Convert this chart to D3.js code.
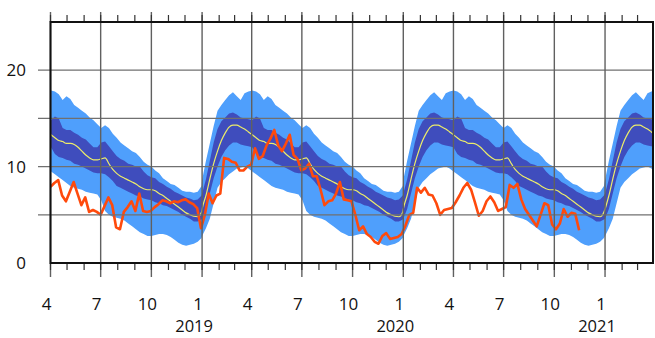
<!DOCTYPE html>
<html><head><meta charset="utf-8">
<script src="https://cdn.jsdelivr.net/npm/d3@7"></script>
<style>body{margin:0;background:#fff} svg{display:block}</style>
</head><body><svg id="c" width="655" height="338"></svg>
<script>
// ---- data ----
// climatology, by day of year (every 7 days), repeated each year
const climDoy = d3.range(0, 365, 7);
const climMed = [5.6,7.0,8.7,10.3,11.6,12.7,13.5,14.1,14.3,14.3,
  14.1,13.9,13.6,13.3,13.0,12.7,12.6,12.4,12.4,12.3,
  12.0,11.6,11.2,10.9,10.7,10.7,10.8,10.9,10.3,9.7,
  9.3,9.0,8.8,8.6,8.4,8.2,7.9,7.7,7.6,7.6,
  7.5,7.2,7.0,6.7,6.4,6.1,5.8,5.5,5.2,5.0,
  4.85,4.8,5.3];
const climDarkHi = [7.2,8.7,10.6,12.5,13.9,14.7,15.1,15.5,15.6,15.4,
  15.1,15.0,14.9,14.8,15.2,15.0,14.0,13.8,13.8,13.5,
  13.3,13.0,12.8,12.4,12.0,12.0,12.5,12.6,12.1,11.6,
  11.1,10.8,10.6,10.3,10.2,10.0,10.0,9.5,9.1,8.9,
  8.8,8.4,8.2,7.9,7.7,7.4,7.2,7.0,6.8,6.7,
  6.5,6.6,7.0];
const climDarkLo = [4.6,5.6,7.2,8.8,10.0,11.0,11.7,12.2,12.5,12.5,
  12.3,12.2,12.1,12.0,11.3,11.0,10.9,10.7,10.6,10.3,
  10.2,10.0,9.8,9.6,9.4,9.3,9.3,9.2,8.9,8.5,
  8.0,7.8,7.6,7.4,7.2,7.0,6.9,6.7,6.6,6.5,
  6.3,6.2,6.0,5.9,5.7,5.5,5.3,5.0,4.8,4.6,
  4.3,4.3,4.5];
const climLightHi = [8.6,10.6,12.4,14.2,15.8,16.4,16.9,17.4,17.7,17.3,
  16.9,17.6,17.8,17.9,17.8,17.5,16.9,17.3,17.0,16.4,
  16.1,15.8,15.5,15.1,14.8,14.4,14.0,14.3,14.0,13.4,
  13.0,12.5,12.2,11.9,11.6,11.4,11.0,10.5,10.2,10.0,
  9.6,9.3,8.8,8.5,8.2,8.1,7.8,7.5,7.4,7.4,
  7.3,7.4,8.0];
const climLightLo = [2.8,3.6,4.6,6.2,7.8,8.4,8.8,9.2,9.5,9.8,
  9.9,10.0,9.8,9.5,9.2,8.9,8.6,8.3,8.0,7.8,
  7.7,7.6,7.4,7.3,7.2,7.1,6.5,5.4,5.0,4.8,
  4.7,4.6,4.4,4.1,3.8,3.5,3.2,3.0,2.8,2.8,
  2.9,3.0,3.0,2.9,2.7,2.4,2.1,1.9,1.8,1.9,
  2.0,2.2,2.6];
const climYears = [2018, 2019, 2020, 2021];

// observed weekly series starting 2018-04-01
const obsStart = [2018, 3, 1];
const obsValues = [7.9,8.3,8.6,7.0,6.4,7.4,8.4,7.2,6.0,6.8,
  5.3,5.5,5.3,5.0,5.9,6.8,6.0,3.7,3.5,5.3,
  5.8,6.4,5.4,7.2,5.4,5.3,5.4,5.8,6.1,6.5,
  6.4,6.2,6.4,6.3,6.5,6.6,6.3,6.1,5.7,3.6,
  5.0,7.2,6.2,7.0,7.2,10.9,10.8,10.5,10.4,9.6,
  9.6,10.0,10.2,11.9,10.8,11.1,12.2,12.9,13.8,12.2,
  11.6,12.4,13.3,11.2,10.8,9.6,9.8,10.3,9.0,9.0,
  7.6,6.0,6.4,6.5,7.2,8.4,6.6,6.5,6.4,5.0,
  3.4,3.8,3.0,2.7,2.2,2.0,2.8,3.1,2.5,2.6,
  2.7,3.0,3.9,5.0,5.2,7.8,7.3,7.8,7.1,7.0,
  6.2,5.0,5.5,5.6,5.7,6.3,7.0,7.8,8.3,7.6,
  6.3,4.9,5.4,6.4,6.9,6.3,5.4,5.6,5.8,8.1,
  7.8,8.2,6.6,5.6,5.0,4.4,3.8,5.0,6.2,6.0,
  4.0,3.5,4.1,5.6,4.8,5.2,5.1,3.4];

const xStart = [2018, 3, 1], xEnd = [2021, 2, 29];
const yTickLabels = [0, 10, 20];
const yGridValues = [5, 10, 15, 20];
const yearLabels = ["2019", "2020", "2021"];

// ---- layout ----
const L = 50.5, R = 653, T = 22, B = 263;
const svg = d3.select("#c");
const x = d3.scaleTime().domain([new Date(...xStart), new Date(...xEnd)]).range([L, R]);
const y = d3.scaleLinear().domain([0, 25]).range([B, T]);

svg.append("defs").append("clipPath").attr("id", "clip")
  .append("rect").attr("x", L).attr("y", T).attr("width", R - L).attr("height", B - T);

// climatology rows across years
const clim = [];
climYears.forEach(yr => {
  climDoy.forEach((d, i) => {
    clim.push({
      date: d3.timeDay.offset(new Date(yr, 0, 1), d),
      med: climMed[i], dh: climDarkHi[i], dl: climDarkLo[i],
      lh: climLightHi[i], ll: climLightLo[i]
    });
  });
});

const g = svg.append("g").attr("clip-path", "url(#clip)");
g.append("path").datum(clim)
  .attr("d", d3.area().x(d => x(d.date)).y0(d => y(d.ll)).y1(d => y(d.lh)))
  .attr("fill", "#4f9ffc");
g.append("path").datum(clim)
  .attr("d", d3.area().x(d => x(d.date)).y0(d => y(d.dl)).y1(d => y(d.dh)))
  .attr("fill", "#3f4dbd");

// grid
const months = d3.timeMonth.range(new Date(...xStart), new Date(2021, 3, 1));
const quarters = months.filter(m => m.getMonth() % 3 === 0);
svg.append("g").selectAll("line").data(yGridValues).join("line")
  .attr("x1", 38).attr("x2", R).attr("y1", d => y(d)).attr("y2", d => y(d))
  .attr("stroke", "#707070").attr("stroke-width", 1.2);
svg.append("g").selectAll("line").data(quarters).join("line")
  .attr("x1", d => x(d)).attr("x2", d => x(d)).attr("y1", 12).attr("y2", 277)
  .attr("stroke", "#606060").attr("stroke-width", 1.4);
// minor ticks
svg.append("g").selectAll("line").data(months).join("line")
  .attr("x1", d => x(d)).attr("x2", d => x(d)).attr("y1", 15).attr("y2", T)
  .attr("stroke", "#333").attr("stroke-width", 1.2);
svg.append("g").selectAll("line").data(months).join("line")
  .attr("x1", d => x(d)).attr("x2", d => x(d)).attr("y1", B).attr("y2", 270)
  .attr("stroke", "#333").attr("stroke-width", 1.2);

// lines
g.append("path").datum(clim)
  .attr("d", d3.line().x(d => x(d.date)).y(d => y(d.med)).curve(d3.curveMonotoneX))
  .attr("fill", "none").attr("stroke", "#ecec6a").attr("stroke-width", 1.2);

const obs = obsValues.map((v, k) => ({ date: d3.timeDay.offset(new Date(...obsStart), 7 * k), v }));
g.append("path").datum(obs)
  .attr("d", d3.line().x(d => x(d.date)).y(d => y(d.v)))
  .attr("fill", "none").attr("stroke", "#ff4a0c").attr("stroke-width", 2.6)
  .attr("stroke-linejoin", "round");

// frame
svg.append("rect").attr("x", L).attr("y", T).attr("width", R - L).attr("height", B - T)
  .attr("fill", "none").attr("stroke", "#111").attr("stroke-width", 2);

// labels
const font = "Open Sans, Liberation Sans, sans-serif";
svg.append("g").selectAll("text").data(yTickLabels).join("text")
  .attr("x", 26).attr("y", d => y(d) + 6).attr("text-anchor", "end")
  .attr("font-family", font).attr("font-size", 17).attr("fill", "#111")
  .text(d => d);
svg.append("g").selectAll("text").data(quarters).join("text")
  .attr("x", d => x(d) - 4).attr("y", 310).attr("text-anchor", "middle")
  .attr("font-family", font).attr("font-size", 17).attr("fill", "#111")
  .text(d => d.getMonth() + 1);
const jans = quarters.filter(d => d.getMonth() === 0);
svg.append("g").selectAll("text").data(jans).join("text")
  .attr("x", d => x(d) - 8).attr("y", 332).attr("text-anchor", "middle")
  .attr("font-family", font).attr("font-size", 16.5).attr("fill", "#111")
  .text((d, i) => yearLabels[i]);
</script></body></html>
